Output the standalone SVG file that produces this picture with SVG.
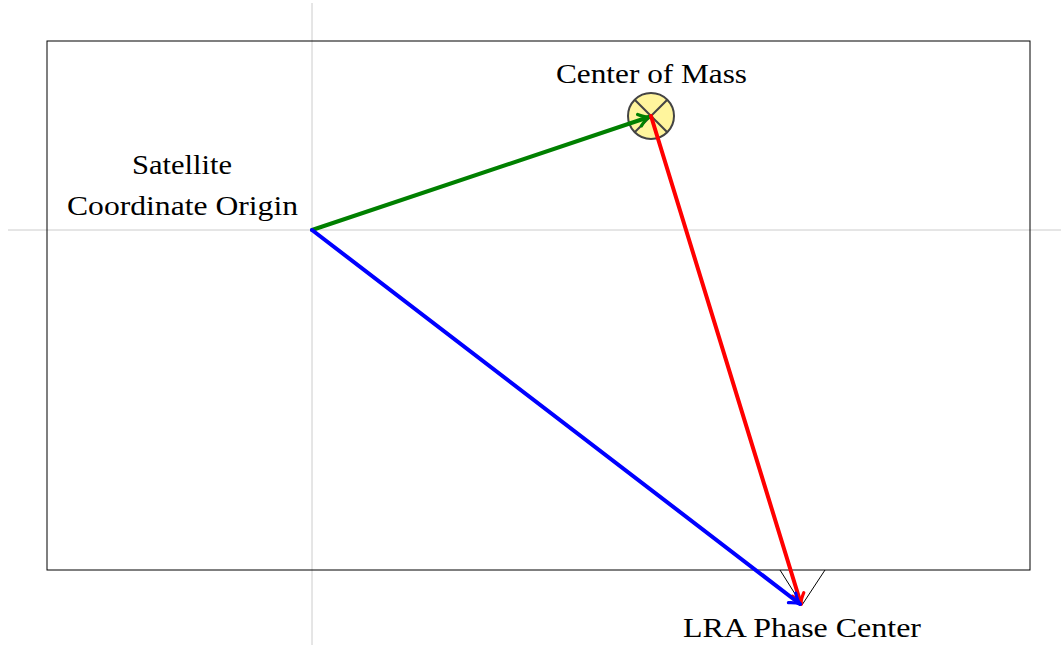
<svg xmlns="http://www.w3.org/2000/svg" width="1061" height="645" viewBox="0 0 1061 645">
<style>
text{font-family:"Liberation Serif","DejaVu Serif",serif;font-size:27px;fill:#000;text-anchor:middle}
.axis{stroke:#cccccc;stroke-width:1}
.vec{fill:none;stroke-width:4;stroke-linecap:round}
</style>
<defs>
<marker id="ag" viewBox="-12 -8 14 16" markerWidth="14" markerHeight="16" refX="0" refY="0" orient="auto" markerUnits="userSpaceOnUse"><path d="M-10,-6 Q-4,-1 0,0 Q-4,1 -10,6" fill="none" stroke="#008000" stroke-width="3.2" stroke-linecap="round"/></marker>
<marker id="ar" viewBox="-12 -8 14 16" markerWidth="14" markerHeight="16" refX="0" refY="0" orient="auto" markerUnits="userSpaceOnUse"><path d="M-10,-6 Q-4,-1 0,0 Q-4,1 -10,6" fill="none" stroke="#ff0000" stroke-width="3.2" stroke-linecap="round"/></marker>
<marker id="ab" viewBox="-12 -8 14 16" markerWidth="14" markerHeight="16" refX="0" refY="0" orient="auto" markerUnits="userSpaceOnUse"><path d="M-10,-6 Q-4,-1 0,0 Q-4,1 -10,6" fill="none" stroke="#0000ff" stroke-width="3.2" stroke-linecap="round"/></marker>
</defs>
<rect width="1061" height="645" fill="#fff"/>
<g id="axes">
<line class="axis" x1="312" y1="3" x2="312" y2="645"/>
<line class="axis" x1="8" y1="230" x2="1061" y2="230"/>
</g>
<g id="satellite-body">
<rect x="47" y="41" width="983" height="529" fill="none" stroke="#000" stroke-width="1"/>
</g>
<g id="lra">
<path d="M780,570 L802,605 L825,570" fill="none" stroke="#000" stroke-width="1"/>
</g>
<g id="center-of-mass">
<circle cx="651" cy="116" r="23" fill="#fff59d" stroke="#444" stroke-width="2"/>
<line x1="634.7" y1="99.7" x2="667.3" y2="132.3" stroke="#444" stroke-width="2"/>
<line x1="667.3" y1="99.7" x2="634.7" y2="132.3" stroke="#444" stroke-width="2"/>
</g>
<g id="connectors">
<line class="vec" x1="312" y1="230" x2="649" y2="117" stroke="#008000" marker-end="url(#ag)"/>
<line class="vec" x1="651" y1="116" x2="801" y2="604" stroke="#ff0000" marker-end="url(#ar)"/>
<line class="vec" x1="312" y1="230" x2="800" y2="604" stroke="#0000ff" marker-end="url(#ab)"/>
</g>
<g id="labels">
<text x="651.5" y="83" textLength="191" lengthAdjust="spacingAndGlyphs">Center of Mass</text>
<text x="182" y="174" textLength="100" lengthAdjust="spacingAndGlyphs">Satellite</text>
<text x="182.5" y="215" textLength="231" lengthAdjust="spacingAndGlyphs">Coordinate Origin</text>
<text x="802" y="637" textLength="238" lengthAdjust="spacingAndGlyphs">LRA Phase Center</text>
</g>
</svg>
